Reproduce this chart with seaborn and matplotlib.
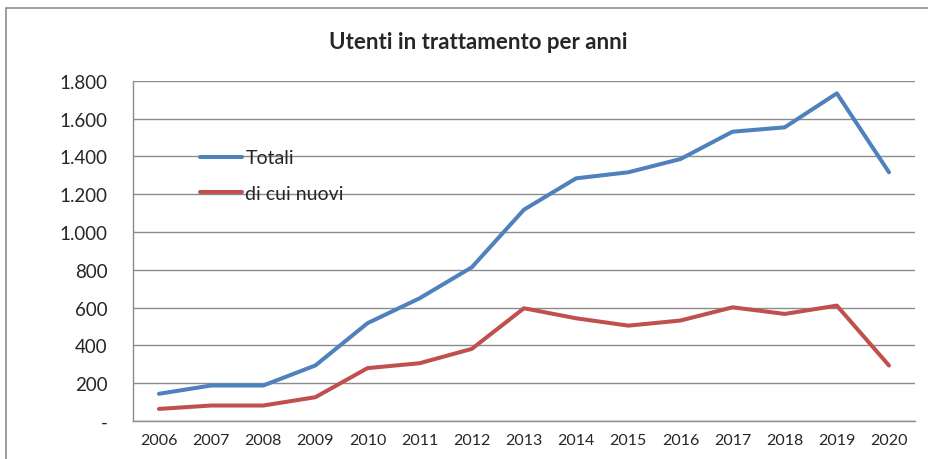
import pandas as pd
import matplotlib.pyplot as plt
import seaborn as sns
from matplotlib.patches import Rectangle

# Values
anni = [2006, 2007, 2008, 2009, 2010, 2011, 2012, 2013, 2014, 2015, 2016, 2017, 2018, 2019, 2020]
totali = [143, 187, 187, 293, 517, 649, 813, 1118, 1284, 1316, 1386, 1531, 1554, 1734, 1316]
nuovi = [63, 81, 81, 125, 279, 305, 381, 596, 543, 504, 531, 601, 566, 610, 293]
y_ticks = [0, 200, 400, 600, 800, 1000, 1200, 1400, 1600, 1800]
y_labels = ['-', '200', '400', '600', '800', '1.000', '1.200', '1.400', '1.600', '1.800']

data = pd.DataFrame({
    'Anno': anni * 2,
    'Utenti': totali + nuovi,
    'Serie': ['Totali'] * len(anni) + ['di cui nuovi'] * len(anni),
})

sns.set_style('white')
plt.rcParams['font.family'] = ['Lato', 'DejaVu Sans']

fig = plt.figure(figsize=(9.29, 4.6), dpi=100)
ax = fig.add_axes([0.143, 0.083, 0.842, 0.739])

sns.lineplot(data=data, x='Anno', y='Utenti', hue='Serie',
             palette={'Totali': '#4F81BD', 'di cui nuovi': '#C0504D'},
             linewidth=2.9, ax=ax)

ax.set_xlim(anni[0] - 0.5, anni[-1] + 0.5)
ax.set_ylim(0, 1800)
ax.set_xticks(anni)
ax.set_xticklabels([str(a) for a in anni], fontsize=11.5)
ax.set_yticks(y_ticks)
ax.set_yticklabels(y_labels, fontsize=13.5)
ax.tick_params(axis='y', pad=18, length=0)
ax.tick_params(axis='x', pad=9, length=0)
ax.set_xlabel('')
ax.set_ylabel('')
ax.yaxis.grid(True, color='#8c8c8c', linewidth=1)
ax.set_axisbelow(True)
for side in ['top', 'right']:
    ax.spines[side].set_visible(False)
for side in ['left', 'bottom']:
    ax.spines[side].set_color('#8c8c8c')
    ax.spines[side].set_linewidth(1)

leg = ax.legend(loc='upper left', bbox_to_anchor=(0.063, 0.85), frameon=False,
                fontsize=14, handlelength=2.2, handletextpad=0.15, labelspacing=0.95)
for line in leg.get_lines():
    line.set_linewidth(2.9)

fig.text(0.5145, 0.908, 'Utenti in trattamento per anni', ha='center', va='center',
         fontsize=16, fontweight='bold')

fig.patches.append(Rectangle((0.006, -0.05), 1.1, 1.03, transform=fig.transFigure,
                             fill=False, edgecolor='#8c8c8c', linewidth=1.2))

fig.savefig('out.png', dpi=100, facecolor='white')
